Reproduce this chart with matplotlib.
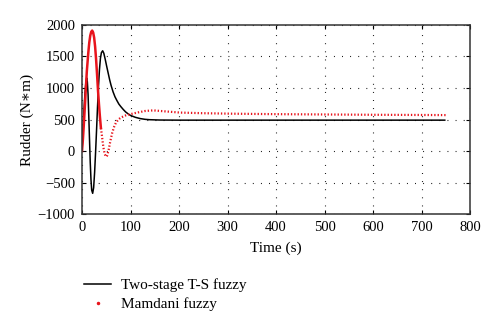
import matplotlib
matplotlib.use("Agg")
import matplotlib.pyplot as plt
from matplotlib.lines import Line2D

plt.rcParams["font.family"] = ["Liberation Serif", "DejaVu Serif"]
plt.rcParams["font.size"] = 10.5

# Two-stage T-S fuzzy (black)
ts_t = [0, 2, 4, 6, 8, 9.6, 11, 12.5, 14, 15.5, 17, 18.5, 20, 22, 24, 26, 28, 30, 32,
        34, 36, 38, 40, 42.6, 45, 48, 51, 54, 57, 60, 64, 68, 72, 76, 80, 85, 90, 95,
        100, 110, 120, 130, 140, 160, 200, 300, 400, 500, 600, 700, 748]
ts_v = [0, 330, 640, 900, 1090, 1160, 1100, 900, 550, 180, -180, -450, -620, -670,
        -580, -340, -20, 330, 700, 1030, 1290, 1470, 1560, 1590, 1550, 1450, 1340, 1235,
        1130, 1040, 940, 860, 800, 745, 705, 660, 620, 590, 565, 535, 515, 503, 497, 492,
        490, 490, 490, 490, 490, 490, 490]

# Mamdani fuzzy (red), first part drawn solid, remainder dotted
mam_t1 = [0, 2, 4, 6, 8, 10, 13, 15, 17, 19, 21, 23, 25, 27, 29, 31, 33, 35, 37, 39]
mam_v1 = [0, 200, 450, 720, 1000, 1270, 1560, 1720, 1830, 1890, 1910, 1880, 1800, 1660,
          1460, 1220, 960, 740, 540, 365]
mam_t2 = [39, 41, 43, 45, 47, 49.5, 52, 55, 58, 62, 66, 70, 75, 80, 90, 100, 115, 130,
          147, 170, 202, 250, 312, 400, 500, 600, 700, 752]
mam_v2 = [365, 250, 120, 20, -50, -90, -70, 20, 140, 280, 380, 450, 500, 530, 565, 585,
          612, 635, 645, 630, 610, 600, 592, 585, 580, 575, 572, 570]

fig = plt.figure(figsize=(5, 3.32), dpi=100)
ax = fig.add_axes([0.164, 0.355, 0.776, 0.57])

ax.plot(ts_t, ts_v, color="black", lw=1.1)
ax.plot(mam_t1, mam_v1, color="#e8141c", lw=1.8)
ax.plot(mam_t2, mam_v2, color="#e8141c", lw=1.6, linestyle=(0, (0.6, 0.9)))

ax.set_xlim(0, 800)
ax.set_ylim(-1000, 2000)
ax.set_xticks(range(0, 801, 100))
ax.set_yticks(range(-1000, 2001, 500))
ax.set_yticklabels(["\u22121000", "\u2212500", "0", "500", "1000", "1500", "2000"])
ax.grid(True, color="black", lw=0.8, linestyle=(0, (0.8, 6.5)))
ax.tick_params(direction="in", top=True, right=True, length=3, width=0.8, pad=5)
for s in ax.spines.values():
    s.set_linewidth(1.1)
    s.set_color("#333333")

ax.set_xlabel("Time (s)", fontsize=11, labelpad=5)
ax.set_ylabel("Rudder (N\u2217m)", fontsize=11, labelpad=3)

handles = [Line2D([], [], color="black", lw=1.1),
           Line2D([], [], color="#e8141c", marker=".", markersize=3, linestyle="none")]
fig.legend(handles, ["Two-stage T-S fuzzy", "Mamdani fuzzy"], loc="upper left",
           bbox_to_anchor=(0.141, 0.203), frameon=False, handlelength=1.75,
           handletextpad=0.65, labelspacing=0.35, fontsize=11)

fig.savefig("out.png", dpi=100)
